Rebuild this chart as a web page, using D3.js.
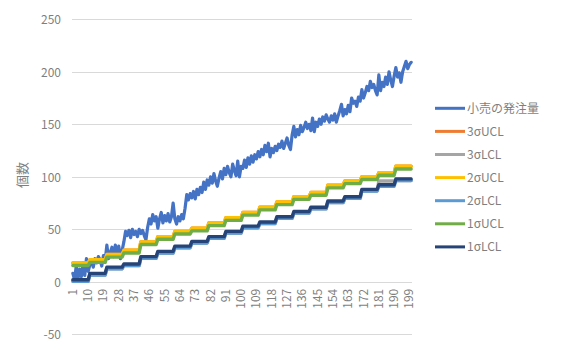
<!DOCTYPE html>
<html>
<head>
<meta charset="utf-8">
<script src="https://cdn.jsdelivr.net/npm/d3@7"></script>
<style>
  body { margin: 0; background: #fff; }
  text { font-family: "Noto Sans CJK JP", "Noto Sans", sans-serif; }
</style>
</head>
<body>
<svg id="chart" width="565" height="350"></svg>
<script>
// -- data -- //
let seriesNames = ["小売の発注量", "3σUCL", "3σLCL", "2σUCL", "2σLCL", "1σUCL", "1σLCL"];
let seriesColors = ["#4472C4", "#ED7D31", "#A5A5A5", "#FFC000", "#5B9BD5", "#70AD47", "#264478"];

// order quantity, one value per period (1..200)
let orders = [
  8, 2, 15, 3, 12, 5, 18, 6, 22, 10,
  16, 20, 14, 22, 18, 24, 21, 15, 25, 20,
  35, 22, 28, 33, 24, 35, 27, 34, 22, 30,
  38, 48, 44, 49, 42, 50, 45, 48, 43, 50,
  46, 49, 44, 40, 52, 60, 55, 64, 58, 62,
  51, 60, 66, 56, 63, 58, 65, 57, 62, 75,
  60, 55, 62, 58, 64, 60, 70, 83, 78, 84,
  80, 86, 79, 88, 83, 90, 85, 95, 88, 97,
  92, 100, 94, 103, 96, 91, 99, 105, 98, 108,
  102, 110, 104, 100, 112, 106, 101, 115, 100, 110,
  108, 116, 109, 118, 112, 120, 114, 121, 117, 124,
  119, 126, 121, 130, 124, 132, 119, 127, 123, 129,
  125, 131, 128, 134, 127, 132, 137, 130, 126, 140,
  148, 138, 145, 140, 149, 143, 147, 152, 146, 150,
  144, 156, 143, 152, 148, 155, 150, 157, 153, 159,
  155, 152, 158, 154, 160, 152, 158, 163, 169, 158,
  164, 160, 168, 162, 175, 170, 172, 167, 176, 172,
  183, 175, 180, 186, 182, 191, 185, 188, 182, 178,
  197, 182, 190, 186, 195, 188, 200, 192, 186, 196,
  204, 195, 199, 190, 200, 205, 210, 203, 207, 209
];

// control limits, one level per block of 10 periods
let ucl3 = [18, 21, 26, 30, 38, 43, 48, 51, 56, 61, 66, 71, 76, 81, 85, 92, 96, 100, 104, 110];
let lcl3 = [0.5, 6.5, 12.5, 15.5, 22.5, 27.5, 32.5, 37, 41.5, 46.5, 51.5, 55.5, 60.5, 65.5, 69.5, 75.5, 79.5, 86.5, 96, 96.5];
let ucl2 = [18, 21, 26, 30, 38, 43, 48, 51, 56, 61, 66, 71, 76, 81, 85, 92, 96, 100, 104, 110];
let lcl2 = [0.5, 6.5, 12.5, 15.5, 22.5, 27.5, 32.5, 37, 41.5, 46.5, 51.5, 55.5, 60.5, 65.5, 69.5, 75.5, 79.5, 86.5, 91, 96.5];
let ucl1 = [15.5, 18.5, 23.5, 27.5, 35.5, 40.5, 45.5, 48.5, 53.5, 58.5, 63.5, 68.5, 73.5, 78.5, 82.5, 89.5, 93.5, 97.5, 101.5, 107.5];
let lcl1 = [2, 8, 14, 17, 24, 29, 34, 38.5, 43, 48, 53, 57, 62, 67, 71, 77, 81, 88, 92.5, 98];

let yTicks = [-50, 0, 50, 100, 150, 200, 250];
let periods = d3.range(1, orders.length + 1);
let xTickLabels = periods.filter(p => (p - 1) % 9 === 0);

// -- layout -- //
let svg = d3.select("#chart");
let plotLeft = 72, plotRight = 412, plotTop = 19.3, plotBottom = 334.3;

let xScale = d3.scalePoint().domain(periods).range([plotLeft, plotRight]).padding(0.5);
let yScale = d3.scaleLinear().domain([-50, 250]).range([plotBottom, plotTop]);

// -- gridlines -- //
svg.append("g").selectAll("line")
  .data(yTicks)
  .enter()
  .append("line")
  .attr("x1", plotLeft)
  .attr("x2", plotRight)
  .attr("y1", d => Math.round(yScale(d)) + 0.5)
  .attr("y2", d => Math.round(yScale(d)) + 0.5)
  .style("stroke", "#d9d9d9")
  .style("stroke-width", 1);

// -- y axis labels -- //
let yAxis = d3.axisLeft(yScale).tickValues(yTicks).tickSize(0).tickPadding(0)
  .tickFormat(d => String(d));
let yAxisG = svg.append("g")
  .attr("transform", `translate(61, 0)`)
  .call(yAxis);
yAxisG.select(".domain").remove();
yAxisG.selectAll("text")
  .style("font-size", "12px")
  .style("fill", "#7f7f7f")
  .attr("dy", "0.35em");

// -- x axis labels (rotated) -- //
svg.append("g").selectAll("text")
  .data(xTickLabels)
  .enter()
  .append("text")
  .attr("transform", d => `translate(${xScale(d) + 4}, ${yScale(0) + 7}) rotate(-90)`)
  .attr("text-anchor", "end")
  .style("font-size", "12px")
  .style("fill", "#7f7f7f")
  .text(d => d);

// -- y axis title -- //
svg.append("text")
  .attr("transform", `translate(27, 175) rotate(-90)`)
  .attr("text-anchor", "middle")
  .style("font-size", "13px")
  .style("fill", "#7f7f7f")
  .text("個数");

// -- lines -- //
let expand = levels => periods.map(p => levels[Math.floor((p - 1) / 10)]);
let allSeries = [orders, expand(ucl3), expand(lcl3), expand(ucl2), expand(lcl2), expand(ucl1), expand(lcl1)];

let line = d3.line()
  .x((d, i) => xScale(periods[i]))
  .y(d => yScale(d));

svg.append("g").selectAll("path")
  .data(allSeries)
  .enter()
  .append("path")
  .attr("d", d => line(d))
  .style("fill", "none")
  .style("stroke", (d, i) => seriesColors[i])
  .style("stroke-width", (d, i) => i === 0 ? 3.2 : 3.4)
  .style("stroke-linejoin", "round")
  .style("stroke-linecap", "round");

// -- legend -- //
let legend = svg.append("g").selectAll("g")
  .data(seriesNames)
  .enter()
  .append("g")
  .attr("transform", (d, i) => `translate(435, ${108.3 + i * 23.1})`);

legend.append("line")
  .attr("x1", 0)
  .attr("x2", 30)
  .style("stroke", (d, i) => seriesColors[i])
  .style("stroke-width", 3);

legend.append("text")
  .attr("x", 32)
  .attr("dy", "0.35em")
  .style("font-size", "12px")
  .style("fill", "#7f7f7f")
  .text(d => d);
</script>
</body>
</html>
